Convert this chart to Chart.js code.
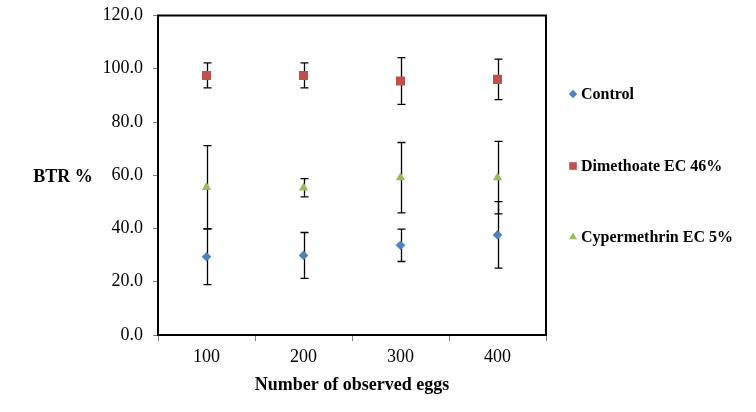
<!DOCTYPE html>
<html>
<head>
<meta charset="utf-8">
<script src="https://cdn.jsdelivr.net/npm/chart.js"></script>
<style>
html,body{margin:0;padding:0;background:#fff;}
#wrap{width:756px;height:412px;position:relative;}
</style>
</head>
<body>
<div id="wrap"><canvas id="c" width="756" height="412"></canvas></div>
<script>
const categories = ['100', '200', '300', '400'];
const controlValues = [29.4, 29.9, 33.7, 37.6];
const controlErrors = [10.5, 8.6, 6.1, 12.5];
const dimethoateValues = [97.5, 97.5, 95.4, 96.0];
const dimethoateErrors = [4.7, 4.7, 8.8, 7.6];
const cypermethrinValues = [55.5, 55.3, 59.1, 59.1];
const cypermethrinErrors = [15.6, 3.4, 13.2, 13.6];
const seriesNames = ['Control', 'Dimethoate EC 46%', 'Cypermethrin EC 5%'];
const yTicks = [0, 20, 40, 60, 80, 100, 120];
const yTitle = 'BTR %';
const xTitle = 'Number of observed eggs';

const colors = ['#4F81BD', '#C0504D', '#9BBB59'];
const styles = ['rectRot', 'rect', 'triangle'];
const radii = [4.8, 6.4, 5.4];
const errorsBySeries = [controlErrors, dimethoateErrors, cypermethrinErrors];
const SERIF = '"Liberation Serif", "Times New Roman", serif';

const errorBarPlugin = {
  id: 'errorBars',
  beforeDatasetsDraw(chart) {
    const ctx = chart.ctx;
    const y = chart.scales.y;
    ctx.save();
    ctx.strokeStyle = '#000';
    ctx.lineWidth = 1.3;
    chart.data.datasets.forEach((ds, i) => {
      const meta = chart.getDatasetMeta(i);
      const errs = errorsBySeries[i];
      meta.data.forEach((pt, j) => {
        const v = ds.data[j];
        const e = errs[j];
        const x = Math.round(pt.x) + 0.5;
        const yt = y.getPixelForValue(v + e);
        const yb = y.getPixelForValue(v - e);
        ctx.beginPath();
        ctx.moveTo(x, yt); ctx.lineTo(x, yb);
        ctx.moveTo(x - 4, yt); ctx.lineTo(x + 4, yt);
        ctx.moveTo(x - 4, yb); ctx.lineTo(x + 4, yb);
        ctx.stroke();
      });
    });
    ctx.restore();
  },
  afterDraw(chart) {
    const ctx = chart.ctx;
    const a = chart.chartArea;
    ctx.save();
    ctx.strokeStyle = '#000';
    ctx.lineWidth = 2;
    ctx.strokeRect(a.left, a.top, a.right - a.left, a.bottom - a.top);
    ctx.fillStyle = '#000';
    ctx.font = 'bold 18px ' + SERIF;
    ctx.textAlign = 'center';
    ctx.textBaseline = 'middle';
    ctx.fillText(yTitle, 63, 177);
    ctx.fillText(xTitle, (a.left + a.right) / 2, 385);
    const legY = [94, 166, 237];
    ctx.font = 'bold 16px ' + SERIF;
    ctx.textAlign = 'left';
    seriesNames.forEach((name, i) => {
      const ly = legY[i];
      ctx.fillStyle = colors[i];
      ctx.strokeStyle = colors[i];
      Chart.helpers.drawPoint(ctx, {pointStyle: styles[i], radius: [4.2, 5.4, 4.6][i], borderWidth: 0, rotation: 0}, 573, ly);
      ctx.fillStyle = '#000';
      ctx.fillText(name, 581, ly + 1);
    });
    ctx.restore();
  }
};

const datasets = [controlValues, dimethoateValues, cypermethrinValues].map((vals, i) => ({
  label: seriesNames[i],
  data: vals,
  showLine: false,
  pointStyle: styles[i],
  pointRadius: radii[i],
  pointHoverRadius: radii[i],
  pointBackgroundColor: colors[i],
  pointBorderColor: colors[i],
  pointBorderWidth: 0
}));

new Chart(document.getElementById('c'), {
  type: 'line',
  data: { labels: categories, datasets },
  options: {
    responsive: false,
    animation: false,
    devicePixelRatio: 1,
    layout: { padding: { top: 15.5, right: 210, left: 0, bottom: 0 } },
    plugins: { legend: { display: false }, tooltip: { enabled: false } },
    scales: {
      x: {
        type: 'category',
        offset: true,
        border: { display: false },
        grid: { offset: true, drawOnChartArea: false, drawTicks: true, tickLength: 6, color: '#808080' },
        ticks: { color: '#000', font: { family: SERIF, size: 18 }, padding: 5, maxRotation: 0 },
        afterFit(s) { s.height = 77; s.paddingLeft = 0; s.paddingRight = 0; }
      },
      y: {
        min: 0, max: 120,
        afterBuildTicks(s) { s.ticks = yTicks.map(v => ({ value: v })); },
        border: { display: false },
        grid: { drawOnChartArea: false, drawTicks: true, tickLength: 5, color: '#808080' },
        ticks: { color: '#000', font: { family: SERIF, size: 18 }, padding: 10, callback: v => Number(v).toFixed(1) },
        afterFit(s) { s.width = 158; s.paddingTop = 0; s.paddingBottom = 0; }
      }
    }
  },
  plugins: [errorBarPlugin]
});
</script>
</body>
</html>
